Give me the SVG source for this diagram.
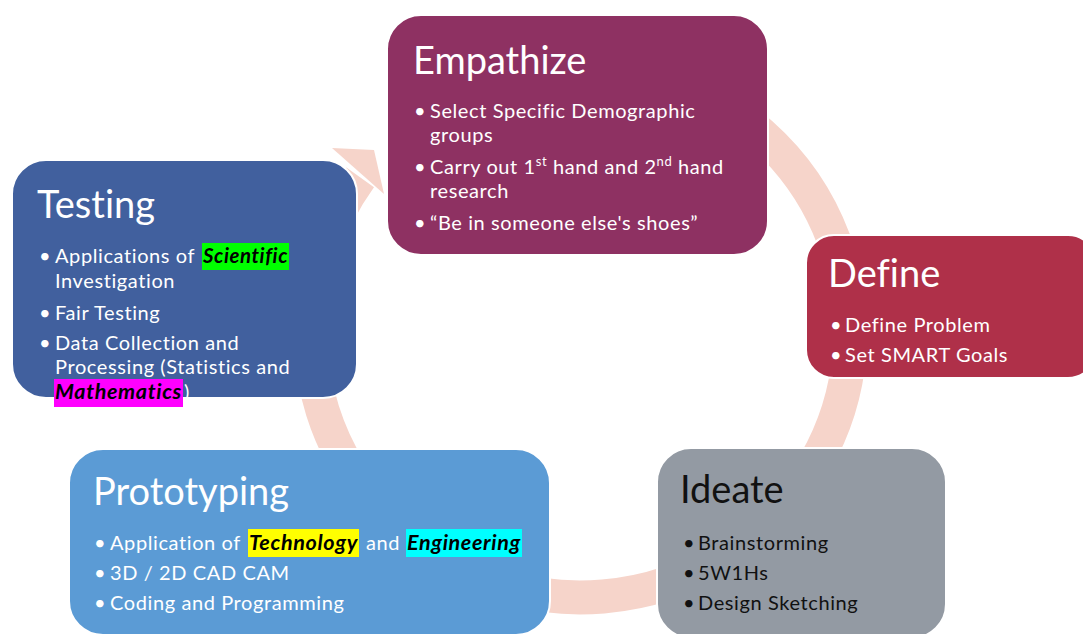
<svg xmlns="http://www.w3.org/2000/svg" width="1083" height="634" viewBox="0 0 1083 634">
<style>
text{font-variant-ligatures:none;font-feature-settings:"liga" 0}
.box{stroke:#ffffff;stroke-width:2}
.title{font-family:Lato,"Noto Sans",sans-serif;font-size:38px;fill:#ffffff}
.txt{font-family:Lato,"Noto Sans",sans-serif;font-size:20px;letter-spacing:0.6px;fill:#ffffff}
.dark{fill:#111111}
.hl{font-family:Lato,"Noto Sans",sans-serif;font-size:20px;font-weight:bold;font-style:italic;fill:#000000}
.ring{fill:none;stroke:#F6D4CA;stroke-width:34}
.head{fill:#F6D4CA}
</style>
<rect width="1083" height="634" fill="#ffffff"/>
<g id="connectors">
<path class="ring" d="M 530.1 70.1 A 270 266 0 1 1 360.2 177.4"/>
<polygon class="head" points="332,148 374,150 384,194"/>
</g>
<g id="node-empathize">
<rect class="box" x="387" y="15" width="381" height="240" rx="34" fill="#8E3162"/>
<text class="title" x="413" y="74">Empathize</text>
<text class="txt"><tspan x="414" y="118">•</tspan><tspan x="430" y="118">Select Specific Demographic</tspan><tspan x="430" y="142">groups</tspan></text>
<text class="txt"><tspan x="414" y="174">•</tspan><tspan x="430" y="174">Carry out 1</tspan><tspan font-size="13" dy="-8">st</tspan><tspan dy="8"> hand and 2</tspan><tspan font-size="13" dy="-8">nd</tspan><tspan dy="8"> hand</tspan><tspan x="430" y="198">research</tspan></text>
<text class="txt"><tspan x="414" y="230">•</tspan><tspan x="430" y="230">“Be in someone else's shoes”</tspan></text>
</g>
<g id="node-testing">
<rect class="box" x="12" y="160" width="345" height="238" rx="34" fill="#41609E"/>
<text class="title" x="37" y="218">Testing</text>
<rect x="202" y="243" width="87" height="27" fill="#00FF00"/>
<text class="txt"><tspan x="39" y="263">•</tspan><tspan x="55" y="263">Applications of</tspan><tspan class="hl" x="203" y="263" textLength="85" lengthAdjust="spacingAndGlyphs">Scientific</tspan><tspan x="55" y="288">Investigation</tspan></text>
<text class="txt"><tspan x="39" y="320">•</tspan><tspan x="55" y="320">Fair Testing</tspan></text>
<rect x="54" y="379" width="129" height="28" fill="#FF00FF"/>
<text class="txt"><tspan x="39" y="350">•</tspan><tspan x="55" y="350">Data Collection and</tspan><tspan x="55" y="374">Processing (Statistics and</tspan><tspan class="hl" x="55" y="399" textLength="127" lengthAdjust="spacingAndGlyphs">Mathematics</tspan><tspan x="184" y="399">)</tspan></text>
</g>
<g id="node-define">
<rect class="box" x="806" y="235" width="290" height="143" rx="28" fill="#AF3049"/>
<text class="title" x="828" y="287">Define</text>
<text class="txt"><tspan x="830" y="332">•</tspan><tspan x="845" y="332">Define Problem</tspan></text>
<text class="txt"><tspan x="830" y="362">•</tspan><tspan x="845" y="362">Set SMART Goals</tspan></text>
</g>
<g id="node-prototyping">
<rect class="box" x="69" y="449" width="481" height="186" rx="34" fill="#5B9BD5"/>
<text class="title" x="93" y="505">Prototyping</text>
<rect x="248" y="529" width="111" height="28" fill="#FFFF00"/>
<rect x="406" y="529" width="116" height="28" fill="#00FFFF"/>
<text class="txt"><tspan x="94" y="550">•</tspan><tspan x="110" y="550">Application of</tspan><tspan class="hl" x="249" y="550" textLength="109" lengthAdjust="spacingAndGlyphs">Technology</tspan><tspan x="366" y="550">and</tspan><tspan class="hl" x="407" y="550" textLength="114" lengthAdjust="spacingAndGlyphs">Engineering</tspan></text>
<text class="txt"><tspan x="94" y="580">•</tspan><tspan x="110" y="580">3D / 2D CAD CAM</tspan></text>
<text class="txt"><tspan x="94" y="610">•</tspan><tspan x="110" y="610">Coding and Programming</tspan></text>
</g>
<g id="node-ideate">
<rect class="box" x="657" y="448" width="289" height="190" rx="34" fill="#939AA3"/>
<text class="title dark" x="680" y="503">Ideate</text>
<text class="txt dark"><tspan x="683" y="550">•</tspan><tspan x="698" y="550">Brainstorming</tspan></text>
<text class="txt dark"><tspan x="683" y="580">•</tspan><tspan x="698" y="580">5W1Hs</tspan></text>
<text class="txt dark"><tspan x="683" y="610">•</tspan><tspan x="698" y="610">Design Sketching</tspan></text>
</g>
</svg>
